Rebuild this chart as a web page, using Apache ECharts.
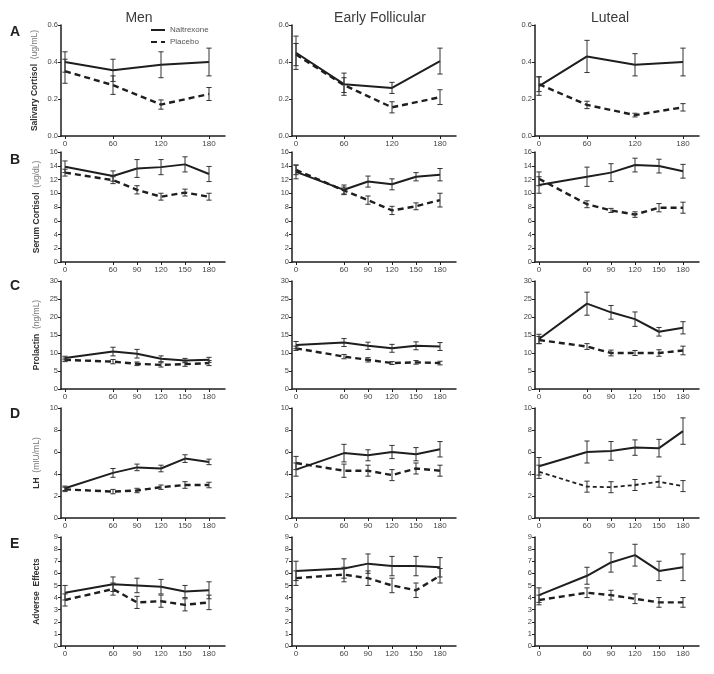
<!DOCTYPE html>
<html><head><meta charset="utf-8">
<script src="https://cdn.jsdelivr.net/npm/echarts@6/dist/echarts.min.js"></script>
<style>html,body{margin:0;padding:0;background:#fff}#c{width:714px;height:674px}</style>
</head><body><div id="c"></div><script>
// ---------- DATA ----------
const groups = ['Men', 'Early Follicular', 'Luteal'];
const rowLetters = ['A', 'B', 'C', 'D', 'E'];
const measureLabels = ['Salivary Cortisol', 'Serum Cortisol', 'Prolactin', 'LH', 'Adverse  Effects'];
const measureUnits = ['(ug/mL)', '(ug/dL)', '(ng/mL)', '(mIU/mL)', ''];
const timesA = [0, 60, 120, 180];
const timesOther = [0, 60, 90, 120, 150, 180];
const seriesNames = ['Naltrexone', 'Placebo'];

// A: salivary cortisol [Men, Early Follicular, Luteal]
const salivaryNal = [[0.40, 0.355, 0.385, 0.40], [0.45, 0.28, 0.26, 0.405], [0.27, 0.43, 0.385, 0.40]];
const salivaryNalErr = [[0.055, 0.06, 0.07, 0.075], [0.09, 0.06, 0.03, 0.07], [0.05, 0.087, 0.06, 0.075]];
const salivaryPla = [[0.35, 0.275, 0.17, 0.227], [0.44, 0.275, 0.155, 0.21], [0.28, 0.168, 0.113, 0.155]];
const salivaryPlaErr = [[0.065, 0.05, 0.025, 0.035], [0.06, 0.04, 0.03, 0.04], [0.04, 0.02, 0.01, 0.02]];

// B: serum cortisol
const serumNal = [[13.85, 12.5, 13.6, 13.8, 14.2, 12.8], [13.1, 10.5, 11.7, 11.3, 12.4, 12.7], [11.2, 12.4, 13.0, 14.1, 13.95, 13.2]];
const serumNalErr = [[0.85, 0.75, 1.3, 1.1, 1.1, 1.1], [1.0, 0.7, 0.8, 0.8, 0.6, 0.9], [1.2, 1.4, 1.3, 1.0, 1.0, 1.0]];
const serumPla = [[13.0, 11.9, 10.5, 9.5, 10.1, 9.5], [13.4, 10.4, 9.0, 7.5, 8.1, 9.0], [12.1, 8.4, 7.5, 6.9, 7.9, 7.9]];
const serumPlaErr = [[0.5, 0.5, 0.6, 0.5, 0.5, 0.5], [0.7, 0.5, 0.6, 0.6, 0.5, 1.0], [1.0, 0.5, 0.3, 0.4, 0.6, 0.8]];

// C: prolactin
const prolactinNal = [[8.6, 10.4, 9.8, 8.4, 7.9, 8.1], [12.2, 12.9, 12.0, 11.3, 12.0, 11.8], [13.9, 23.7, 21.3, 19.4, 15.9, 17.0]];
const prolactinNalErr = [[0.5, 1.2, 1.2, 0.8, 0.6, 0.7], [1.0, 1.1, 1.0, 1.1, 1.1, 1.1], [1.3, 3.2, 1.9, 2.0, 1.2, 1.7]];
const prolactinPla = [[8.1, 7.6, 7.0, 6.7, 6.9, 7.2], [11.3, 9.0, 8.1, 7.2, 7.4, 7.2], [13.6, 11.8, 10.0, 10.0, 10.0, 10.7]];
const prolactinPlaErr = [[0.5, 0.6, 0.5, 0.6, 0.6, 0.7], [0.6, 0.6, 0.6, 0.4, 0.5, 0.5], [1.0, 0.8, 0.8, 0.7, 0.9, 1.2]];

// D: LH
const lhNal = [[2.7, 4.1, 4.6, 4.5, 5.4, 5.1], [4.4, 5.9, 5.7, 6.0, 5.8, 6.25], [4.7, 6.0, 6.1, 6.4, 6.35, 7.9]];
const lhNalErr = [[0.2, 0.4, 0.3, 0.3, 0.35, 0.25], [0.6, 0.8, 0.5, 0.6, 0.6, 0.7], [0.8, 1.0, 0.85, 0.7, 0.8, 1.2]];
const lhPla = [[2.6, 2.4, 2.5, 2.8, 3.0, 3.0], [5.0, 4.3, 4.3, 3.9, 4.5, 4.3], [4.2, 2.85, 2.8, 3.0, 3.3, 2.9]];
const lhPlaErr = [[0.2, 0.2, 0.2, 0.2, 0.3, 0.25], [0.6, 0.6, 0.5, 0.5, 0.5, 0.5], [0.6, 0.5, 0.5, 0.5, 0.5, 0.5]];

// E: adverse effects
const adverseNal = [[4.4, 5.1, 5.0, 4.9, 4.5, 4.6], [6.2, 6.4, 6.8, 6.6, 6.6, 6.5], [4.2, 5.8, 6.9, 7.5, 6.2, 6.5]];
const adverseNalErr = [[0.6, 0.6, 0.6, 0.6, 0.5, 0.7], [0.8, 0.8, 0.8, 0.8, 0.8, 0.8], [0.6, 0.7, 0.8, 0.9, 0.8, 1.1]];
const adversePla = [[3.8, 4.7, 3.6, 3.7, 3.4, 3.6], [5.6, 5.9, 5.6, 5.0, 4.6, 5.8], [3.8, 4.4, 4.2, 3.9, 3.6, 3.6]];
const adversePlaErr = [[0.5, 0.5, 0.5, 0.5, 0.5, 0.6], [0.6, 0.6, 0.6, 0.6, 0.6, 0.6], [0.4, 0.4, 0.4, 0.4, 0.4, 0.4]];

const yMax = [0.6, 16, 30, 10, 9];
const yInterval = [0.2, 2, 5, 2, 1];

// ---------- LAYOUT ----------
const colLeft = [61, 292, 535];
const gridW = 164;
const rowTop = [25, 152, 281, 408, 537];
const rowH = [111, 110, 108, 110, 109];
const colTitleX = [139, 380, 610];

const nalRows = [salivaryNal, serumNal, prolactinNal, lhNal, adverseNal];
const nalErrRows = [salivaryNalErr, serumNalErr, prolactinNalErr, lhNalErr, adverseNalErr];
const plaRows = [salivaryPla, serumPla, prolactinPla, lhPla, adversePla];
const plaErrRows = [salivaryPlaErr, serumPlaErr, prolactinPlaErr, lhPlaErr, adversePlaErr];

const INK = '#1e1e1e';
const TXT = '#444';
const FONT = 'Arial, Liberation Sans, sans-serif';

function renderErr(params, api) {
  const x = api.value(0), lo = api.value(1), hi = api.value(2);
  const p1 = api.coord([x, hi]), p2 = api.coord([x, lo]);
  const w = 2.6;
  const style = { stroke: '#333', lineWidth: 1 };
  return { type: 'group', children: [
    { type: 'line', shape: { x1: p1[0], y1: p1[1], x2: p2[0], y2: p2[1] }, style },
    { type: 'line', shape: { x1: p1[0] - w, y1: p1[1], x2: p1[0] + w, y2: p1[1] }, style },
    { type: 'line', shape: { x1: p2[0] - w, y1: p2[1], x2: p2[0] + w, y2: p2[1] }, style }
  ]};
}

const grid = [], xAxis = [], yAxis = [], series = [];
for (let r = 0; r < 5; r++) {
  const times = r === 0 ? timesA : timesOther;
  for (let c = 0; c < 3; c++) {
    const idx = r * 3 + c;
    grid.push({ left: colLeft[c], top: rowTop[r], width: gridW, height: rowH[r] });
    xAxis.push({
      type: 'value', gridIndex: idx, min: -5, max: 200,
      splitLine: { show: false },
      axisLine: { lineStyle: { color: INK, width: 1.5 } },
      axisTick: { customValues: times, length: 3, lineStyle: { color: INK, width: 1 } },
      axisLabel: { customValues: times, fontSize: 8, color: TXT, margin: 4, fontFamily: FONT }
    });
    const unit = measureUnits[r];
    yAxis.push({
      type: 'value', gridIndex: idx, min: 0, max: yMax[r], interval: yInterval[r],
      splitLine: { show: false },
      axisLine: { show: true, onZero: false, lineStyle: { color: INK, width: 1.5 } },
      axisTick: { show: true, length: 3, lineStyle: { color: INK, width: 1 } },
      axisLabel: {
        fontSize: 7.5, color: TXT, margin: 3, fontFamily: FONT,
        formatter: r === 0 ? (v => v.toFixed(1)) : (v => String(v))
      },
      name: c === 0 ? ('{b|' + measureLabels[r] + '}' + (unit ? '{u|  ' + unit + '}' : '')) : '',
      nameLocation: 'middle', nameRotate: 90, nameGap: r === 0 ? 21 : 19,
      nameTextStyle: {
        fontFamily: FONT, fontSize: 8.5, lineHeight: 10,
        rich: {
          b: { fontSize: 8.5, lineHeight: 10, color: '#333', fontWeight: 'bold', fontFamily: FONT },
          u: { fontSize: 8.5, lineHeight: 10, color: '#777', fontFamily: FONT }
        }
      }
    });
    const nal = nalRows[r][c], nalE = nalErrRows[r][c], pla = plaRows[r][c], plaE = plaErrRows[r][c];
    const thinDash = (r === 3 && c === 2);
    series.push({
      name: seriesNames[1], type: 'line', xAxisIndex: idx, yAxisIndex: idx,
      data: times.map((t, i) => [t, pla[i]]), symbol: 'none', silent: true, z: 2,
      itemStyle: { color: INK },
      lineStyle: { color: INK, width: thinDash ? 1.8 : 2.4, type: thinDash ? [4, 3] : [6, 4] }
    });
    series.push({
      name: seriesNames[0], type: 'line', xAxisIndex: idx, yAxisIndex: idx,
      data: times.map((t, i) => [t, nal[i]]), symbol: 'none', silent: true, z: 3,
      itemStyle: { color: INK },
      lineStyle: { color: INK, width: 2 }
    });
    series.push({
      type: 'custom', xAxisIndex: idx, yAxisIndex: idx, renderItem: renderErr, silent: true, z: 4,
      encode: { x: 0, y: [1, 2] },
      data: times.map((t, i) => [t, pla[i] - plaE[i], pla[i] + plaE[i]])
    });
    series.push({
      type: 'custom', xAxisIndex: idx, yAxisIndex: idx, renderItem: renderErr, silent: true, z: 4,
      encode: { x: 0, y: [1, 2] },
      data: times.map((t, i) => [t, nal[i] - nalE[i], nal[i] + nalE[i]])
    });
  }
}

const graphic = [];
groups.forEach((g, c) => graphic.push({
  type: 'text', x: colTitleX[c], y: 18,
  style: { text: g, fontSize: 14, fill: '#3a3a3a', fontFamily: FONT, align: 'center', verticalAlign: 'middle' }
}));
const letterY = [32, 160, 286, 414, 544];
rowLetters.forEach((L, r) => graphic.push({
  type: 'text', x: 10, y: letterY[r],
  style: { text: L, fontSize: 14, fontWeight: 'bold', fill: '#222', fontFamily: FONT, verticalAlign: 'middle' }
}));

const chart = echarts.init(document.getElementById('c'), null, { renderer: 'canvas' });
chart.setOption({
  animation: false,
  backgroundColor: '#fff',
  grid, xAxis, yAxis, series, graphic,
  legend: {
    data: seriesNames, orient: 'vertical', left: 150, top: 26, padding: 0,
    itemWidth: 14, itemHeight: 8, itemGap: 4, selectedMode: false,
    itemStyle: { opacity: 0 },
    textStyle: { fontSize: 8, color: '#555', fontFamily: FONT }
  }
});
</script></body></html>
